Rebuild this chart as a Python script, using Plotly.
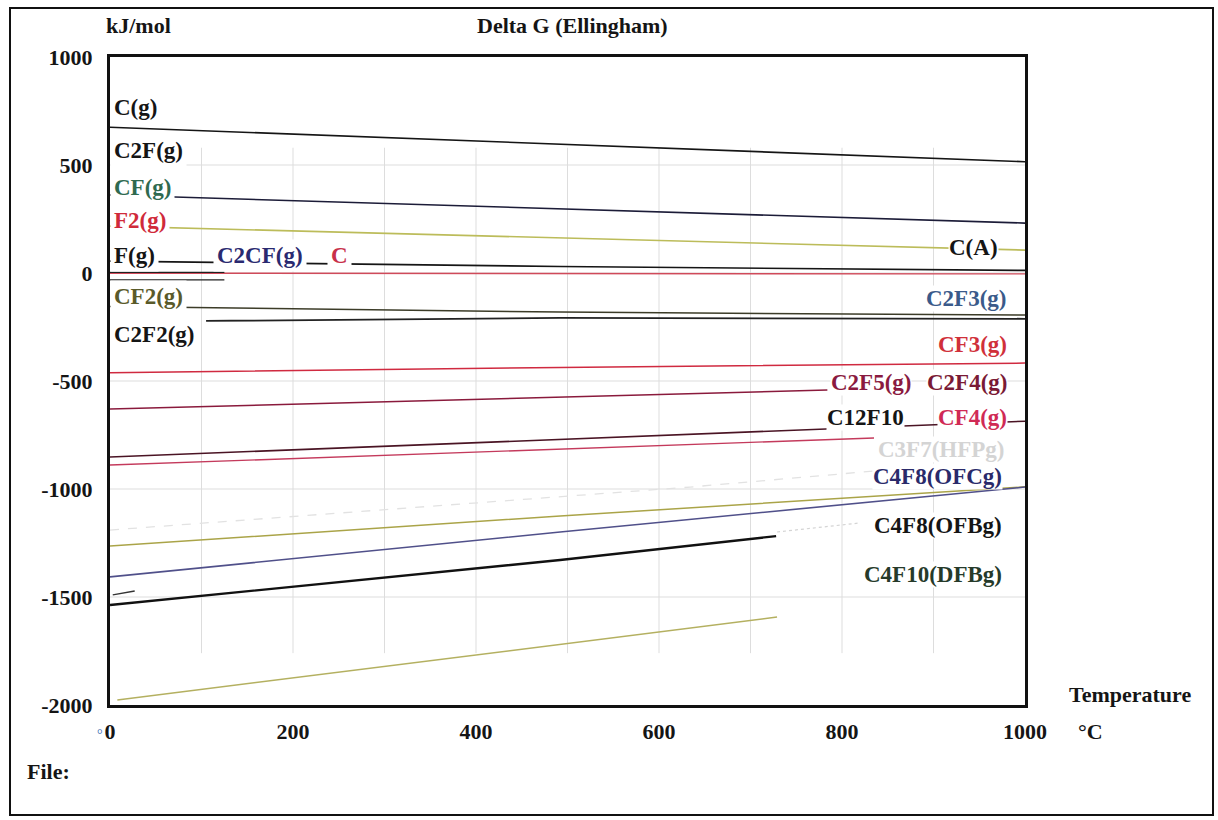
import plotly.graph_objects as go

# Free energy lines, Delta G in kJ/mol against temperature in degC
t_cg = [0, 500, 1000]
g_cg = [675, 595, 515]

t_cf = [0, 500, 1000]
g_cf = [361, 296, 231]

t_f2 = [0, 492, 1000]
g_f2 = [217, 161, 106]

t_c2cf = [0, 492, 1000]
g_c2cf = [55, 30, 12]

t_c = [0, 500, 1000]
g_c = [-1, -2, -4]

t_fg_a = [0, 125]
g_fg_a = [3, 3]

t_fg_b = [0, 125]
g_fg_b = [-32, -32]

t_cf2 = [0, 492, 1000]
g_cf2 = [-155, -181, -195]

t_c2f2 = [105, 492, 1000]
g_c2f2 = [-222, -208, -212]

t_cf3 = [0, 492, 1000]
g_cf3 = [-462, -437, -417]

t_c2f5 = [0, 492, 784]
g_c2f5 = [-630, -574, -542]

t_c12f10 = [0, 492, 1000]
g_c12f10 = [-852, -770, -686]

t_cf4 = [0, 492, 835]
g_cf4 = [-889, -815, -764]

t_c3f7 = [0, 634, 840]
g_c3f7 = [-1190, -991, -915]

t_ofc = [0, 492, 1000]
g_ofc = [-1264, -1125, -990]

t_ofb = [0, 492, 1000]
g_ofb = [-1407, -1199, -991]

t_c4f8 = [0, 492, 728]
g_c4f8 = [-1537, -1329, -1218]

t_c4f8_ext = [729, 820]
g_c4f8_ext = [-1199, -1157]

t_stub = [3, 27]
g_stub = [-1490, -1472]

t_dfb = [8, 492, 729]
g_dfb = [-1977, -1718, -1593]

# Axis ticks
x_ticks = [0, 200, 400, 600, 800, 1000]
x_labels = ["0", "200", "400", "600", "800", "1000"]
y_ticks = [1000, 500, 0, -500, -1000, -1500, -2000]
y_labels = ["1000", "500", "0", "-500", "-1000", "-1500", "-2000"]
grid_x = [100, 200, 300, 400, 500, 600, 700, 800, 900]
grid_y = [500, 0, -500, -1000, -1500]

SERIF = "Liberation Serif, Times New Roman, serif"
LABEL_SIZE = 23

traces = [
    (t_cg, g_cg, "#151515", 1.6, "solid"),
    (t_cf, g_cf, "#1c1c38", 1.6, "solid"),
    (t_f2, g_f2, "#bcbc5a", 1.6, "solid"),
    (t_c2cf, g_c2cf, "#151515", 1.6, "solid"),
    (t_c, g_c, "#d04a5a", 1.4, "solid"),
    (t_fg_a, g_fg_a, "#202020", 1.4, "solid"),
    (t_fg_b, g_fg_b, "#202020", 1.4, "solid"),
    (t_cf2, g_cf2, "#3c3c28", 1.5, "solid"),
    (t_c2f2, g_c2f2, "#222222", 1.8, "solid"),
    (t_cf3, g_cf3, "#d02a40", 1.5, "solid"),
    (t_c2f5, g_c2f5, "#8a1a3c", 1.5, "solid"),
    (t_c12f10, g_c12f10, "#4a1424", 1.6, "solid"),
    (t_cf4, g_cf4, "#c43a5c", 1.4, "solid"),
    (t_c3f7, g_c3f7, "#e2e2e2", 1.3, "dash"),
    (t_ofc, g_ofc, "#aaa448", 1.5, "solid"),
    (t_ofb, g_ofb, "#50508a", 1.6, "solid"),
    (t_c4f8, g_c4f8, "#111111", 2.4, "solid"),
    (t_c4f8_ext, g_c4f8_ext, "#d4d4d4", 1.2, "dot"),
    (t_stub, g_stub, "#333333", 1.4, "solid"),
    (t_dfb, g_dfb, "#b4b060", 1.5, "solid"),
]

fig = go.Figure()
for tx, gy, col, w, dash in traces:
    fig.add_trace(go.Scatter(x=tx, y=gy, mode="lines",
                             line=dict(color=col, width=w, dash=dash),
                             hoverinfo="skip", showlegend=False))

shapes = []
for gx in grid_x:
    shapes.append(dict(type="line", xref="x", yref="y", x0=gx, x1=gx, y0=-1760, y1=580,
                       line=dict(color="#dddddd", width=1), layer="below"))
for gy in grid_y:
    shapes.append(dict(type="line", xref="x", yref="y", x0=0, x1=1000, y0=gy, y1=gy,
                       line=dict(color="#dddddd", width=1), layer="below"))

# page coordinates: plot area spans 110..1025 px across and 57..705 px down
def px_x(p):
    return (p - 110) / 915.0

def px_y(p):
    return (705 - p) / 648.0

shapes.append(dict(type="rect", xref="paper", yref="paper",
                   x0=px_x(10), x1=px_x(1213), y0=px_y(815), y1=px_y(8),
                   line=dict(color="#111111", width=2)))

fig.update_layout(shapes=shapes)

# curve labels: text, temperature, kJ/mol, colour
left_labels = [
    ("C(g)", 0, 764, "#151515"),
    ("C2F(g)", 0, 569, "#151515"),
    ("CF(g)", 0, 398, "#2f6a50"),
    ("F2(g)", 0, 245, "#d02a3a"),
    ("F(g)", 0, 83, "#151515"),
    ("C2CF(g)", 113, 83, "#2a2a70"),
    ("C", 237, 83, "#c8304a"),
    ("CF2(g)", 0, -111, "#5a5a2a"),
    ("C2F2(g)", 0, -287, "#151515"),
]
right_labels = [
    ("C(A)", 972, 116, "#151515"),
    ("C2F3(g)", 980, -116, "#3a5a8a"),
    ("CF3(g)", 981, -329, "#d0303a"),
    ("C2F5(g)", 876, -509, "#8a1a40"),
    ("C2F4(g)", 981, -509, "#7a1a35"),
    ("C12F10", 869, -667, "#151515"),
    ("CF4(g)", 981, -667, "#d02a55"),
    ("C3F7(HFPg)", 978, -819, "#d4d4d4"),
    ("C4F8(OFCg)", 976, -940, "#2a2a6a"),
    ("C4F8(OFBg)", 976, -1167, "#151515"),
    ("C4F10(DFBg)", 976, -1394, "#263a2a"),
]

annotations = []
for txt, ax, ay, col in left_labels:
    annotations.append(dict(text="<b>%s</b>" % txt, x=ax, y=ay, xref="x", yref="y",
                            xanchor="left", yanchor="middle", showarrow=False,
                            bgcolor="white", borderpad=3,
                            font=dict(family=SERIF, size=LABEL_SIZE, color=col)))
for txt, ax, ay, col in right_labels:
    annotations.append(dict(text="<b>%s</b>" % txt, x=ax, y=ay, xref="x", yref="y",
                            xanchor="right", yanchor="middle", showarrow=False,
                            bgcolor="white", borderpad=0,
                            font=dict(family=SERIF, size=LABEL_SIZE, color=col)))

page_text = [
    ("kJ/mol", 138, 26, "center"),
    ("Delta G (Ellingham)", 572, 26, "center"),
    ("Temperature", 1130, 694, "center"),
    ("°C", 1090, 731, "center"),
    ("File:", 25, 771, "left"),
]
for txt, px, py, anc in page_text:
    annotations.append(dict(text="<b>%s</b>" % txt, x=px_x(px), y=px_y(py),
                            xref="paper", yref="paper", xanchor=anc, yanchor="middle",
                            showarrow=False,
                            font=dict(family=SERIF, size=22, color="#151515")))
# small blue degree mark beside the origin tick
annotations.append(dict(text="°", x=px_x(104), y=px_y(734), xref="paper", yref="paper",
                        xanchor="right", yanchor="middle", showarrow=False, borderpad=0,
                        font=dict(family=SERIF, size=14, color="#3a6ab0")))

fig.update_layout(
    width=1218, height=820,
    margin=dict(l=110, r=193, t=57, b=115),
    paper_bgcolor="white", plot_bgcolor="white",
    annotations=annotations,
    xaxis=dict(range=[0, 1000], tickvals=x_ticks,
               ticktext=["<b>%s</b>" % s for s in x_labels],
               showgrid=False, zeroline=False, showline=True, mirror=True,
               linecolor="#111111", linewidth=3, ticks="",
               ticklabelstandoff=5,
               tickfont=dict(family=SERIF, size=22, color="#151515")),
    yaxis=dict(range=[-2000, 1000], tickvals=y_ticks,
               ticktext=["<b>%s</b>" % s for s in y_labels],
               showgrid=False, zeroline=False, showline=True, mirror=True,
               linecolor="#111111", linewidth=3, ticks="",
               ticklabelstandoff=10,
               tickfont=dict(family=SERIF, size=22, color="#151515")),
)

fig.write_html("out.html")
